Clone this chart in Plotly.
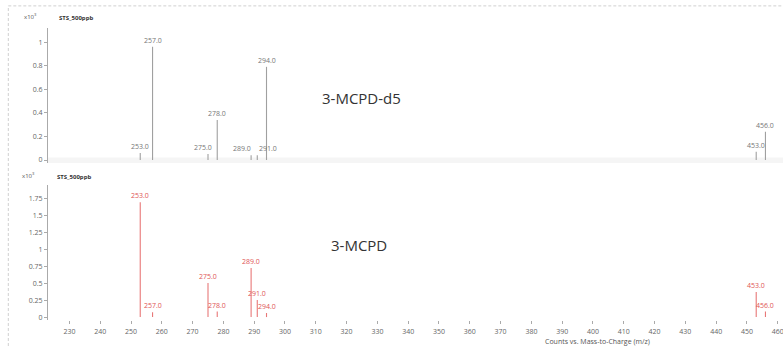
import plotly.graph_objects as go
from plotly.subplots import make_subplots

# ---- data ----
mz_d5 = [253.0, 257.0, 275.0, 278.0, 289.0, 291.0, 294.0, 453.0, 456.0]
int_d5 = [0.06, 0.96, 0.05, 0.34, 0.04, 0.04, 0.79, 0.07, 0.24]
lbl_d5 = ["253.0", "257.0", "275.0", "278.0", "289.0", "291.0", "294.0", "453.0", "456.0"]

mz_mcpd = [253.0, 257.0, 275.0, 278.0, 289.0, 291.0, 294.0, 453.0, 456.0]
int_mcpd = [1.69, 0.07, 0.50, 0.08, 0.72, 0.25, 0.06, 0.37, 0.08]
lbl_mcpd = ["253.0", "257.0", "275.0", "278.0", "289.0", "291.0", "294.0", "453.0", "456.0"]

x_ticks = list(range(230, 461, 10))
y_ticks_top = [0, 0.2, 0.4, 0.6, 0.8, 1]
y_ticks_bot = [0, 0.25, 0.5, 0.75, 1, 1.25, 1.5, 1.75]
sample_name = "STS_500ppb"
name_top = "3-MCPD-d5"
name_bot = "3-MCPD"
x_title = "Counts vs. Mass-to-Charge (m/z)"

# label x offsets (px) to avoid overlap
shift_d5 = [0, 0, -5, 0, -9, 11, 0, 0, 0]
shift_mcpd = [0, 0, 0, 0, 0, 0, 0, 0, 0]

FONT = "Open Sans, Noto Sans, sans-serif"
GRAY_LINE = "#a0a0a0"
RED_LINE = "#e87878"
RED_TXT = "#e05555"


def sticks(mz, it):
    xs, ys = [], []
    for m, h in zip(mz, it):
        xs += [m, m, None]
        ys += [0, h, None]
    return xs, ys


fig = make_subplots(rows=2, cols=1, shared_xaxes=False)

xs, ys = sticks(mz_d5, int_d5)
fig.add_trace(go.Scatter(x=xs, y=ys, mode="lines", line=dict(color=GRAY_LINE, width=1.1),
                         hoverinfo="skip", showlegend=False), row=1, col=1)
xs, ys = sticks(mz_mcpd, int_mcpd)
fig.add_trace(go.Scatter(x=xs, y=ys, mode="lines", line=dict(color=RED_LINE, width=1.1),
                         hoverinfo="skip", showlegend=False), row=2, col=1)

annotations = []
for m, h, t, s in zip(mz_d5, int_d5, lbl_d5, shift_d5):
    annotations.append(dict(x=m, y=h, xref="x", yref="y", text=t, showarrow=False,
                            yanchor="bottom", xanchor="center", xshift=s, yshift=0,
                            font=dict(family=FONT, size=7, color="#777")))
for m, h, t, s in zip(mz_mcpd, int_mcpd, lbl_mcpd, shift_mcpd):
    annotations.append(dict(x=m, y=h, xref="x2", yref="y2", text=t, showarrow=False,
                            yanchor="bottom", xanchor="center", xshift=s, yshift=0,
                            font=dict(family=FONT, size=7, color=RED_TXT)))

annotations += [
    dict(x=325, y=0.53, xref="x", yref="y", text=name_top, showarrow=False,
         font=dict(family=FONT, size=15, color="#333")),
    dict(x=324, y=1.06, xref="x2", yref="y2", text=name_bot, showarrow=False,
         font=dict(family=FONT, size=15, color="#333")),
    dict(x=0.012, y=0.948, xref="paper", yref="paper", text="<b>" + sample_name + "</b>",
         showarrow=False, xanchor="left", yanchor="middle",
         font=dict(family=FONT, size=6, color="#333")),
    dict(x=0.009, y=0.488, xref="paper", yref="paper", text="<b>" + sample_name + "</b>",
         showarrow=False, xanchor="left", yanchor="middle",
         font=dict(family=FONT, size=6, color="#333")),
    dict(x=-0.036, y=0.951, xref="paper", yref="paper", text="x10<sup>3</sup>",
         showarrow=False, xanchor="left", yanchor="middle",
         font=dict(family=FONT, size=6, color="#555")),
    dict(x=-0.038, y=0.493, xref="paper", yref="paper", text="x10<sup>3</sup>",
         showarrow=False, xanchor="left", yanchor="middle",
         font=dict(family=FONT, size=6, color="#555")),
    dict(x=0.748, y=1 - 341 / 346, xref="paper", yref="paper", text=x_title,
         showarrow=False, xanchor="center", yanchor="middle",
         font=dict(family=FONT, size=7, color="#555")),
]

shapes = [
    dict(type="line", xref="paper", yref="paper", x0=-0.054, x1=1.0, y0=0.983, y1=0.983,
         line=dict(color="#d0d0d0", width=1, dash="3px,2px")),
    dict(type="line", xref="paper", yref="paper", x0=-0.054, x1=-0.054, y0=0.0, y1=0.983,
         line=dict(color="#d0d0d0", width=1, dash="3px,2px")),
    dict(type="rect", xref="paper", yref="paper", x0=0.0, x1=1.0, y0=0.529, y1=0.545,
         fillcolor="#f5f5f5", line=dict(width=0), layer="below"),
]

xr = [223.05, 461.7]
axis_common = dict(showgrid=False, zeroline=False, range=xr, tickvals=x_ticks,
                   ticks="outside", ticklen=3, tickcolor="#aaa",
                   tickfont=dict(family=FONT, size=7, color="#666"))
fig.update_layout(
    width=783, height=346,
    margin=dict(l=48, r=0, t=0, b=0),
    paper_bgcolor="white", plot_bgcolor="white",
    annotations=annotations, shapes=shapes,
    xaxis=dict(axis_common, domain=[0, 1], anchor="y", showticklabels=False, ticks=""),
    xaxis2=dict(axis_common, domain=[0, 1], anchor="y2", showline=False,
                ticklabelstandoff=2, ticklabeloverflow="allow"),
    yaxis=dict(domain=[0.529, 0.919], range=[-0.025, 1.119], tickvals=y_ticks_top,
               ticktext=["0", "0.2", "0.4", "0.6", "0.8", "1"],
               showgrid=False, zeroline=False, showline=True, linecolor="#aaa",
               ticks="outside", ticklen=3, tickcolor="#aaa",
               tickfont=dict(family=FONT, size=7, color="#666")),
    yaxis2=dict(domain=[0.075, 0.465], range=[-0.044, 1.941], tickvals=y_ticks_bot,
                ticktext=["0", "0.25", "0.5", "0.75", "1", "1.25", "1.5", "1.75"],
                showgrid=False, zeroline=False, showline=True, linecolor="#aaa",
                ticks="outside", ticklen=3, tickcolor="#aaa",
                tickfont=dict(family=FONT, size=7, color="#666")),
)

fig.write_html("out.html")
